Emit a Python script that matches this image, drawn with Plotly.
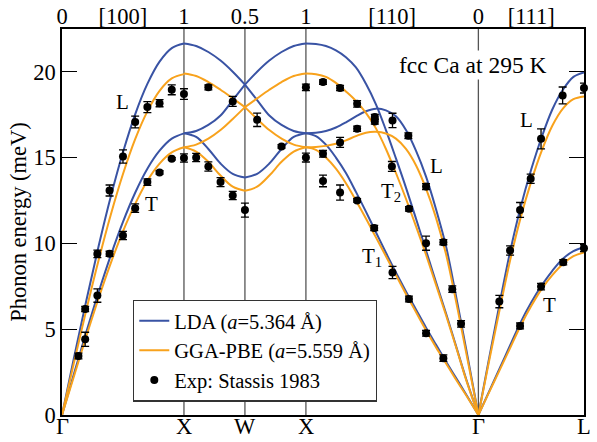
import plotly.graph_objects as go

# ---------------- high-symmetry path (units of 2*pi/a) ----------------
SEG_GX = 1.0
SEG_XW = 0.5
SEG_WX = 0.5
SEG_XG = 2 ** 0.5
SEG_GL = 3 ** 0.5 / 2
P_G1 = 0.0
P_X1 = P_G1 + SEG_GX
P_W = P_X1 + SEG_XW
P_X2 = P_W + SEG_WX
P_G2 = P_X2 + SEG_XG
P_L = P_G2 + SEG_GL

bottom_labels = ["Γ", "X", "W", "X", "Γ", "L"]
top_labels = ["0", "[100]", "1", "0.5", "1", "[110]", "0", "[111]", "0.5"]
y_ticks = [0, 5, 10, 15, 20]

# ---------------- calculated dispersions (meV) ----------------
# Gamma -> X, fraction along segment
f_GX = [0.0, 0.1, 0.2, 0.3, 0.4, 0.5, 0.6, 0.7, 0.8, 0.9, 1.0]
lda_GX_L = [0, 3.39, 6.69, 9.83, 12.73, 15.31, 17.52, 19.29, 20.59, 21.38, 21.65]
lda_GX_T = [0, 2.45, 4.85, 7.15, 9.3, 11.25, 12.95, 14.35, 15.4, 16.1, 16.41]
gga_GX_L = [0, 3.11, 6.14, 9.02, 11.67, 14.04, 16.07, 17.69, 18.89, 19.61, 19.86]
gga_GX_T = [0, 2.3, 4.6, 6.8, 8.85, 10.7, 12.3, 13.65, 14.65, 15.3, 15.6]

# X -> W, fraction along segment
f_XW = [0.0, 0.2, 0.4, 0.6, 0.8, 1.0]
lda_XW_top = [21.65, 21.5, 21.15, 20.65, 20.0, 19.25]
lda_XW_mid = [16.42, 16.55, 16.9, 17.45, 18.35, 19.25]
lda_XW_bot = [16.42, 16.2, 15.5, 14.65, 14.05, 13.84]
gga_XW_top = [19.9, 19.75, 19.4, 18.95, 18.45, 17.94]
gga_XW_mid = [15.6, 15.75, 16.1, 16.6, 17.25, 17.94]
gga_XW_bot = [15.6, 15.35, 14.75, 13.95, 13.3, 13.06]

# X -> Gamma along [110], fraction along segment
f_XG = [0.0, 0.058, 0.116, 0.174, 0.232, 0.29, 0.348, 0.406, 0.464,
        0.522, 0.580, 0.638, 0.696, 0.754, 0.813, 0.871, 0.929, 1.0]
lda_XG_L = [16.42, 16.45, 16.55, 16.75, 17.05, 17.4, 17.7, 17.85, 17.75,
            17.4, 16.6, 15.4, 13.9, 12.0, 9.8, 6.9, 3.85, 0]
lda_XG_T2 = [21.65, 21.62, 21.5, 21.25, 20.85, 20.25, 19.3, 18.1, 16.6,
             14.95, 13.25, 11.45, 9.6, 7.75, 5.9, 4.0, 2.1, 0]
lda_XG_T1 = [16.42, 16.25, 15.75, 15.0, 14.1, 13.0, 11.85, 10.65, 9.45,
             8.3, 7.2, 6.15, 5.1, 4.1, 3.1, 2.15, 1.2, 0]
gga_XG_L = [15.6, 15.62, 15.68, 15.8, 16.0, 16.25, 16.45, 16.5, 16.4,
            16.1, 15.5, 14.55, 13.2, 11.5, 9.35, 6.6, 3.65, 0]
gga_XG_T2 = [19.9, 19.85, 19.7, 19.35, 18.85, 18.3, 17.6, 16.7, 15.5,
             14.1, 12.6, 11.0, 9.35, 7.6, 5.8, 3.95, 2.05, 0]
gga_XG_T1 = [15.6, 15.45, 15.0, 14.35, 13.5, 12.5, 11.45, 10.35, 9.25,
             8.15, 7.05, 6.0, 4.95, 3.95, 3.0, 2.05, 1.15, 0]

# Gamma -> L, fraction along segment
f_GL = [0.0, 0.1, 0.2, 0.3, 0.4, 0.5, 0.6, 0.7, 0.8, 0.9, 1.0]
lda_GL_L = [0, 3.25, 6.45, 9.5, 12.1, 14.3, 16.2, 17.8, 18.95, 19.7, 19.96]
lda_GL_T = [0, 1.35, 2.7, 4.05, 5.4, 6.55, 7.55, 8.4, 9.1, 9.55, 9.78]
gga_GL_L = [0, 3.1, 6.1, 9.0, 11.5, 13.6, 15.4, 16.85, 17.85, 18.4, 18.56]
gga_GL_T = [0, 1.3, 2.6, 3.9, 5.2, 6.35, 7.35, 8.15, 8.8, 9.25, 9.47]

# ---------------- experiment (Stassis 1983) ----------------
exp_x = [0.135, 0.19, 0.19, 0.29, 0.29, 0.39, 0.39, 0.5, 0.5, 0.6, 0.6,
         0.7, 0.7, 0.8, 0.8, 0.9, 0.9, 1.0, 1.0,
         1.1, 1.2, 1.2, 1.3, 1.4, 1.4, 1.5, 1.6, 1.8, 2.0, 2.0,
         2.14, 2.28, 2.42, 2.565, 2.565, 2.71, 2.84, 2.42, 2.28, 2.14,
         2.14, 2.28, 2.42, 2.56, 2.705, 2.985, 2.845, 2.985, 3.127, 3.2,
         3.272, 2.71, 2.845, 2.985, 3.127,
         3.586, 3.674, 3.756, 3.843, 3.928, 4.105, 4.28, 3.756, 3.928,
         4.11, 4.28]
exp_E = [3.44, 4.41, 6.18, 6.96, 9.39, 9.39, 13.08, 10.46, 15.06, 12.05, 17.07,
         13.57, 17.94, 14.13, 18.17, 14.93, 18.95, 14.97, 18.7,
         15.0, 19.09, 14.48, 13.57, 18.27, 12.79, 11.94, 17.2, 15.65, 19.09, 15.0,
         19.4, 19.05, 18.13, 17.36, 17.1, 17.16, 16.27, 16.68, 15.88, 15.22,
         13.64, 12.96, 12.5, 10.9, 14.48, 13.31, 12.01, 10.01, 10.07, 7.33,
         5.31, 8.3, 6.76, 4.76, 3.31,
         6.61, 9.58, 11.95, 13.76, 16.09, 18.62, 19.05, 5.19, 7.48,
         8.9, 9.72]
exp_err = [0.17, 0.41, 0.15, 0.39, 0.22, 0.15, 0.32, 0.24, 0.39, 0.25, 0.34,
           0.19, 0.32, 0.1, 0.21, 0.07, 0.29, 0.24, 0.31,
           0.24, 0.15, 0.27, 0.26, 0.29, 0.24, 0.41, 0.39, 0.1, 0.19, 0.26,
           0.13, 0.15, 0.19, 0.15, 0.15, 0.42, 0.17, 0.15, 0.29, 0.19,
           0.34, 0.44, 0.1, 0.15, 0.29, 0.17, 0.13, 0.41, 0.15, 0.19,
           0.19, 0.36, 0.17, 0.17, 0.19,
           0.36, 0.27, 0.43, 0.27, 0.58, 0.49, 0.29, 0.17, 0.19,
           0.15, 0.2]

# branch labels: (text, path position, energy)
branch_labels = [("L", 0.5, 18.25), ("T", 0.735, 12.3),
                 ("L", 3.073, 14.48), ("T<sub>2</sub>", 2.698, 13.0),
                 ("T<sub>1</sub>", 2.542, 9.21),
                 ("L", 3.81, 17.2), ("T", 4.0, 6.41)]

BLUE = "#3953a4"
ORANGE = "#f8a21c"
FONT = "Liberation Serif"
FS_TICK = 22.5
FS_LAB = 21
FS_LEG = 20.5

fig = go.Figure()


def seg_x(start, length, fr):
    return [start + length * f for f in fr]


def add_curve(x, y, color, name, show):
    fig.add_trace(go.Scatter(x=x, y=y, mode="lines", line=dict(color=color, width=2, shape="spline"),
                             name=name, showlegend=show, legendgroup=name, hoverinfo="skip"))


for tag, color, name, data in [
    ("lda", BLUE, "LDA (<i>a</i>=5.364 Å)",
     [lda_GX_L, lda_GX_T, lda_XW_top, lda_XW_mid, lda_XW_bot, lda_XG_L, lda_XG_T2, lda_XG_T1, lda_GL_L, lda_GL_T]),
    ("gga", ORANGE, "GGA-PBE (<i>a</i>=5.559 Å)",
     [gga_GX_L, gga_GX_T, gga_XW_top, gga_XW_mid, gga_XW_bot, gga_XG_L, gga_XG_T2, gga_XG_T1, gga_GL_L, gga_GL_T]),
]:
    gxL, gxT, xwT, xwM, xwB, xgL, xgT2, xgT1, glL, glT = data
    first = True
    for br in (gxL, gxT):
        add_curve(seg_x(P_G1, SEG_GX, f_GX), br, color, name, first)
        first = False
    for br in (xwT, xwM, xwB):
        add_curve(seg_x(P_X1, SEG_XW, f_XW), br, color, name, False)
        # W -> X is the mirror image of X -> W
        add_curve(seg_x(P_W, SEG_WX, f_XW), br[::-1], color, name, False)
    for br in (xgL, xgT2, xgT1):
        add_curve(seg_x(P_X2, SEG_XG, f_XG), br, color, name, False)
    for br in (glL, glT):
        add_curve(seg_x(P_G2, SEG_GL, f_GL), br, color, name, False)

fig.add_trace(go.Scatter(
    x=exp_x, y=exp_E, mode="markers", name="Exp: Stassis 1983",
    marker=dict(color="black", size=8, symbol="circle"),
    error_y=dict(type="data", array=exp_err, visible=True, color="black", thickness=1.3, width=4),
    hoverinfo="skip", cliponaxis=False))

# dummy trace to activate top axis
fig.add_trace(go.Scatter(x=[P_G1, P_L], y=[0, 0], xaxis="x2", mode="lines",
                         line=dict(width=0), showlegend=False, hoverinfo="skip"))

# vertical lines at high-symmetry points
for p in [P_X1, P_W, P_X2, P_G2]:
    fig.add_shape(type="line", x0=p, x1=p, y0=0, y1=1, xref="x", yref="paper",
                  line=dict(color="#555555", width=1.3), layer="below")

for txt, xx, yy in branch_labels:
    fig.add_annotation(x=xx, y=yy, text=txt, showarrow=False,
                       font=dict(family=FONT, size=FS_LAB, color="black"))

fig.add_annotation(x=3.366, y=20.4, text="fcc Ca at 295 K", showarrow=False,
                   font=dict(family=FONT, size=23.5, color="black"), bgcolor="white")

bottom_vals = [P_G1, P_X1, P_W, P_X2, P_G2, P_L]
top_vals = [P_G1, (P_G1 + P_X1) / 2, P_X1, P_W, P_X2, (P_X2 + P_G2) / 2, P_G2, (P_G2 + P_L) / 2, P_L]

# bottom high-symmetry labels as annotations (closer to the axis than tick labels)
for v, t in zip(bottom_vals, bottom_labels):
    fig.add_annotation(x=v, xref="x", y=-0.031, yref="paper", yanchor="middle",
                       text=t, showarrow=False, font=dict(family=FONT, size=FS_TICK, color="black"))

fig.update_layout(
    width=597, height=442,
    margin=dict(l=62, r=13, t=29, b=27),
    paper_bgcolor="white", plot_bgcolor="white",
    font=dict(family=FONT, size=FS_TICK, color="black"),
    xaxis=dict(range=[P_G1, P_L], showticklabels=False,
               ticks="", showgrid=False, zeroline=False, showline=True, mirror=True,
               linecolor="black", linewidth=1.5, automargin=False),
    xaxis2=dict(range=[P_G1, P_L], overlaying="x", side="top", tickvals=top_vals,
                ticktext=top_labels, ticks="", showgrid=False, zeroline=False,
                showline=False, tickfont=dict(family=FONT, size=FS_TICK), automargin=False),
    yaxis=dict(range=[0, 22.49], tickvals=y_ticks, ticks="inside", ticklen=15, tickwidth=1.2,
               tickcolor="black", showgrid=False, zeroline=False, showline=True, mirror="ticks",
               linecolor="black", linewidth=1.5, tickfont=dict(family=FONT, size=FS_TICK),
               automargin=False,
               title=dict(text="Phonon energy (meV)", font=dict(family=FONT, size=FS_TICK), standoff=0)),
    legend=dict(x=0.136, y=0.299, xanchor="left", yanchor="top", bgcolor="white",
                bordercolor="#333333", borderwidth=1.3, font=dict(family=FONT, size=FS_LEG),
                tracegroupgap=0, itemwidth=30),
    showlegend=True,
)

fig.write_html("out.html")
